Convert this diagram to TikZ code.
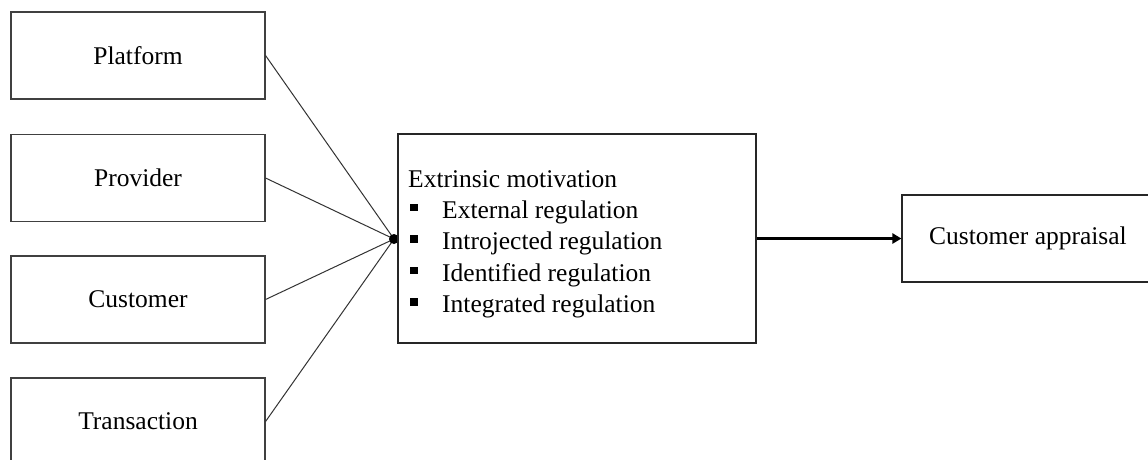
\documentclass[tikz,border=0pt]{standalone}
\usepackage{fontspec}
\setmainfont{Liberation Serif}
\usetikzlibrary{arrows.meta}
\begin{document}
\begin{tikzpicture}[x=1pt,y=-1pt,
  every node/.style={font=\fontsize{25.5}{30}\selectfont, inner sep=0pt},
  factor/.style={draw=black!75, line width=1.1pt, minimum width=254pt, minimum height=87pt},
  bigbox/.style={draw=black!85, line width=1.1pt, minimum width=358pt, minimum height=209pt},
  outbox/.style={draw=black!85, line width=1.1pt, minimum width=252pt, minimum height=87pt},
  link/.style={draw=black!80, line width=1pt},
  flow/.style={draw=black, line width=2.2pt, -{Triangle[length=9pt,width=10pt]}},
  itemtext/.style={anchor=base west},
  bulletsq/.style={fill=black, minimum size=7.5pt, inner sep=0pt}
]
\clip (0,0) rectangle (1148,459);
\fill[white] (0,0) rectangle (1148,459);

% antecedent boxes
\node[factor] (platform) at (138,55.5) {Platform};
\node[factor] (provider) at (138,178) {Provider};
\node[factor] (customer) at (138,299.5) {Customer};
\node[factor] (transaction) at (138,421.5) {Transaction};

% converging point
\coordinate (hub) at (394,239);
\draw[link] (platform.east) -- (hub);
\draw[link] (provider.east) -- (hub);
\draw[link] (customer.east) -- (hub);
\draw[link] (transaction.east) -- (hub);
\fill (hub) circle (5);

% mediator box with its list
\node[bigbox] (motiv) at (577,238.5) {};
\node[itemtext] (t0) at (408,187) {Extrinsic motivation};
\node[itemtext] (t1) at (442,218) {External regulation};
\node[itemtext] (t2) at (442,249.5) {Introjected regulation};
\node[itemtext] (t3) at (442,281) {Identified regulation};
\node[itemtext] (t4) at (442,312.5) {Integrated regulation};
\node[bulletsq] (b1) at (414,207.5) {};
\node[bulletsq] (b2) at (414,239) {};
\node[bulletsq] (b3) at (414,270.5) {};
\node[bulletsq] (b4) at (414,302) {};

% outcome
\node[outbox] (appraisal) at (1028,238.5) {Customer appraisal};
\draw[flow] (motiv.east) -- (appraisal.west);
\end{tikzpicture}
\end{document}
